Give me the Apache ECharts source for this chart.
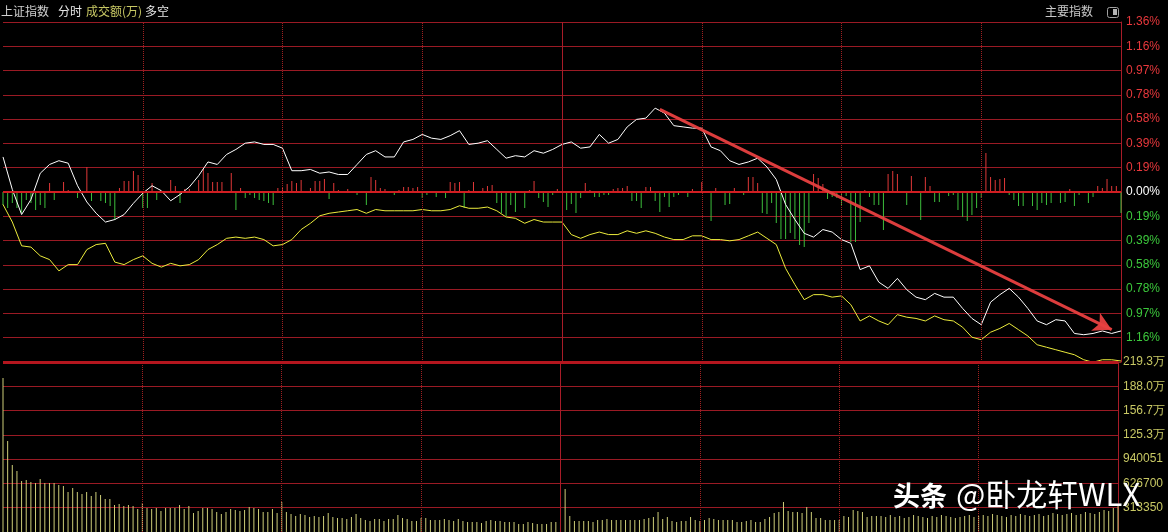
<!DOCTYPE html>
<html>
<head>
<meta charset="utf-8">
<script src="https://cdn.jsdelivr.net/npm/echarts@6/dist/echarts.min.js"></script>
<style>
html,body{margin:0;padding:0;background:#000;}
#chart{width:1168px;height:532px;}
</style>
</head>
<body>
<div id="chart"></div>
<script>
// ---------- DATA ----------
// white line: index % change, sampled every 2 minutes (minute = 2*k), 241 trading minutes
const whitePct = [0.28,0.02,-0.18,-0.06,0.15,0.22,0.25,0.23,0.05,-0.08,
-0.17,-0.24,-0.22,-0.18,-0.09,-0.01,0.05,0.01,-0.07,-0.02,
0.04,0.13,0.24,0.22,0.30,0.34,0.39,0.40,0.38,0.38,
0.35,0.17,0.17,0.18,0.15,0.16,0.14,0.14,0.22,0.30,
0.33,0.28,0.28,0.40,0.42,0.46,0.43,0.42,0.45,0.49,
0.38,0.39,0.41,0.34,0.27,0.29,0.28,0.33,0.31,0.34,
0.38,0.40,0.35,0.36,0.46,0.39,0.42,0.52,0.58,0.59,
0.67,0.63,0.53,0.52,0.51,0.51,0.36,0.33,0.25,0.22,
0.24,0.27,0.20,0.10,-0.10,-0.22,-0.33,-0.36,-0.30,-0.32,
-0.38,-0.41,-0.62,-0.59,-0.72,-0.77,-0.69,-0.78,-0.84,-0.86,
-0.81,-0.84,-0.84,-0.93,-1.01,-1.06,-0.88,-0.82,-0.77,-0.84,
-0.93,-1.03,-1.06,-1.02,-1.03,-1.13,-1.14,-1.13,-1.11,-1.13,-1.11];
// yellow line: % change, sampled every 2 minutes
const yellowPct = [-0.10,-0.24,-0.43,-0.44,-0.51,-0.54,-0.63,-0.58,-0.58,-0.46,
-0.42,-0.41,-0.56,-0.58,-0.54,-0.51,-0.57,-0.60,-0.57,-0.59,
-0.58,-0.54,-0.46,-0.42,-0.37,-0.36,-0.37,-0.36,-0.38,-0.43,
-0.42,-0.38,-0.30,-0.25,-0.19,-0.17,-0.16,-0.15,-0.14,-0.17,
-0.14,-0.15,-0.15,-0.15,-0.15,-0.14,-0.15,-0.15,-0.14,-0.11,
-0.13,-0.13,-0.12,-0.15,-0.20,-0.21,-0.25,-0.22,-0.24,-0.24,
-0.24,-0.34,-0.37,-0.34,-0.32,-0.34,-0.34,-0.31,-0.33,-0.31,
-0.33,-0.36,-0.38,-0.38,-0.35,-0.35,-0.38,-0.38,-0.39,-0.38,
-0.35,-0.32,-0.37,-0.42,-0.61,-0.74,-0.86,-0.82,-0.82,-0.84,
-0.83,-0.90,-1.03,-0.99,-1.03,-1.06,-0.98,-1.00,-1.01,-1.03,
-0.99,-1.02,-1.03,-1.08,-1.16,-1.18,-1.12,-1.09,-1.05,-1.10,
-1.15,-1.22,-1.24,-1.26,-1.28,-1.30,-1.34,-1.36,-1.34,-1.34,-1.35];
// turnover per minute (万)
const volumeWan = [198.6,117.3,86.4,78.7,65.8,67.1,64.5,63.2,68.3,63.2,
63.2,63.2,60.6,59.3,51.6,56.7,51.6,49.0,51.6,46.4,
51.6,47.7,42.6,42.6,34.8,36.1,33.5,34.8,33.5,29.7,
37.4,30.9,29.7,30.9,27.1,30.9,30.9,30.9,34.8,29.7,
33.5,24.5,27.1,30.9,30.9,29.7,25.8,23.2,25.8,29.7,
28.4,27.1,28.4,32.2,30.9,29.7,25.8,25.8,29.7,24.5,
38.7,25.8,23.2,20.6,
23.2,21.9,19.3,20.6,19.3,20.6,24.5,19.3,18.1,18.1,
16.8,19.3,23.2,18.1,15.5,14.2,16.8,16.8,14.2,16.8,
16.8,21.9,18.1,16.8,14.2,14.2,18.1,18.1,15.5,15.5,
15.5,16.8,15.5,14.2,16.8,14.2,12.9,12.9,12.9,11.6,
14.2,15.5,14.2,14.2,12.9,12.9,12.9,10.3,10.3,12.9,
11.6,10.3,10.3,10.3,12.9,12.9,12.9,55.4,20.6,14.2,14.2,
14.2,14.2,12.9,15.5,15.5,16.8,15.5,15.5,15.5,15.5,
15.5,15.5,15.5,16.8,18.1,19.3,25.8,16.8,19.3,14.2,
12.9,14.2,14.2,19.3,15.5,14.2,15.5,18.1,16.8,15.5,
15.5,15.5,15.5,12.9,12.9,14.2,15.5,12.9,12.9,16.8,
19.3,24.5,25.8,38.7,27.1,25.8,25.8,24.5,32.2,25.8,
18.1,18.1,15.5,15.5,15.5,15.5,20.6,19.3,28.4,27.1,
25.8,19.3,20.6,20.6,
20.6,19.3,21.9,19.3,20.6,18.1,19.3,21.9,20.6,19.3,
18.1,20.6,19.3,21.9,20.6,19.3,18.1,19.3,20.6,21.9,
19.3,20.6,21.9,20.6,23.2,21.9,20.6,19.3,21.9,20.6,
23.2,21.9,20.6,21.9,23.2,20.6,21.9,24.5,23.2,21.9,
23.2,24.5,21.9,23.2,25.8,24.5,23.2,25.8,28.4,27.1,
31.0,33.5];
// 多空 strength bars: [minute, value] (positive = red, negative = green)
const duokong = [[0,-13],[1,-16],[2,-11],[3,-16],[4,-21],[5,-8],[6,-11],[7,-18],[8,-13],[9,-16],[10,9],[11,-8],[13,10],[14,2],[16,-6],[18,25],[19,-9],[21,-9],[22,-11],[23,-14],[24,-28],[25,4],[26,11],[27,11],[28,21],[29,17],[30,-16],[31,-16],[32,9],[33,-8],[36,12],[37,6],[38,-11],[39,3],[40,3],[41,1],[42,12],[43,23],[44,19],[45,10],[46,10],[47,10],[49,19],[50,-18],[51,4],[52,-6],[53,-3],[54,-6],[55,-8],[56,-9],[57,-11],[58,-13],[59,4],[60,5],[61,8],[62,11],[63,9],[64,12],[66,4],[67,11],[68,11],[69,13],[70,-7],[71,9],[72,2],[74,3],[76,-3],[78,-13],[79,15],[80,12],[81,4],[82,3],[84,-3],[85,2],[86,5],[87,5],[88,4],[89,5],[90,-6],[91,-3],[93,-5],[95,-6],[96,10],[97,9],[98,10],[99,-16],[100,2],[101,10],[103,4],[104,6],[105,7],[106,-11],[107,-21],[108,-24],[109,-13],[110,-20],[112,-16],[113,2],[114,11],[115,-6],[116,-10],[117,-15],[118,-3],[119,3],[121,-18],[122,-12],[123,-21],[124,-6],[125,9],[126,2],[127,-5],[128,-5],[129,-3],[130,-3],[131,3],[132,4],[133,4],[134,6],[135,-9],[136,-9],[137,-16],[138,5],[139,5],[140,-9],[141,-20],[142,-5],[143,-15],[144,-5],[145,-3],[147,-5],[148,3],[150,10],[152,-29],[153,4],[155,-13],[156,-12],[157,4],[159,-3],[160,15],[161,15],[162,9],[163,-21],[164,-22],[165,-11],[166,-31],[167,-47],[168,-47],[169,-41],[170,-47],[171,-53],[172,-55],[173,-31],[174,18],[175,14],[176,8],[177,-7],[178,-5],[179,-6],[180,-13],[181,-4],[182,-50],[183,-50],[184,-30],[185,2],[186,-5],[187,-13],[188,-13],[189,-38],[190,18],[191,21],[192,18],[193,1],[194,-13],[195,16],[197,-28],[198,15],[199,6],[200,-10],[201,-10],[203,-4],[204,-3],[205,-18],[206,-25],[207,-29],[208,-23],[209,-16],[210,-6],[211,39],[212,15],[213,12],[214,13],[215,14],[216,-3],[217,-8],[218,-14],[219,-14],[221,-14],[222,-18],[223,-11],[224,-13],[225,-11],[227,-11],[228,-10],[229,3],[230,-14],[231,-3],[233,-11],[234,-5],[235,6],[236,4],[237,13],[238,6],[239,6],[240,-21]];
// tick labels (price: steps -7..7, volume: steps 0..7)
const priceTickLabels = ['', '1.16%','0.97%','0.78%','0.58%','0.39%','0.19%','0.00%','0.19%','0.39%','0.58%','0.78%','0.97%','1.16%','1.36%'];
const volTickLabels = ['', '313350','626700','940051','125.3万','156.7万','188.0万','219.3万'];
const halfHourTicks = [30, 60, 90, 150, 180, 210]; // minutes (dotted)
const middayTick = 120;                            // 11:30 / 13:00 (solid)
const PCT_STEP = 0.194;      // % per grid step
const VOL_STEP_WAN = 31.335; // 万 per grid step
// annotation arrow [minute, %]
const arrowStart = [141, 0.66];
const arrowEnd = [238, -1.10];

// ---------- CHART ----------
const chart = echarts.init(document.getElementById('chart'), null, {renderer: 'canvas'});
const GRID_RED = '#9a1a24';
const DOT_RED = '#a02020';
const labelFont = 'Liberation Sans';

const xBase = {
  type: 'value', min: 0, max: 240,
  axisLine: {show: false, onZero: false}, axisTick: {show: false}, axisLabel: {show: false},
  splitLine: {show: false}
};
const vLines = halfHourTicks.map(t => ({xAxis: t, lineStyle: {color: DOT_RED, width: 1, type: 'dotted'}}))
  .concat([{xAxis: middayTick, lineStyle: {color: '#a81c28', width: 1, type: 'solid'}}]);

const option = {
  backgroundColor: '#000000',
  animation: false,
  grid: [
    {left: 3, right: 47, top: 22, height: 340},
    {left: 3, right: 47, top: 362, height: 170}
  ],
  xAxis: [
    Object.assign({gridIndex: 0}, xBase),
    Object.assign({gridIndex: 1}, xBase)
  ],
  yAxis: [
    {
      gridIndex: 0, type: 'value', position: 'right', min: -7, max: 7, interval: 1,
      axisLine: {show: true, onZero: false, lineStyle: {color: '#a81c28', width: 1}},
      axisTick: {show: false},
      axisLabel: {
        margin: 5, fontSize: 12, fontFamily: labelFont,
        formatter: v => priceTickLabels[Math.round(v) + 7],
        color: v => (v > 0 ? '#e8383c' : (v < 0 ? '#3cc83c' : '#ffffff'))
      },
      splitLine: {lineStyle: {color: GRID_RED, width: 1}}
    },
    {
      gridIndex: 0, type: 'value', position: 'right', min: -170, max: 170, show: false,
      axisLine: {show: false, onZero: false}, axisTick: {show: false}, axisLabel: {show: false},
      splitLine: {show: false}
    },
    {
      gridIndex: 1, type: 'value', position: 'right', min: 0, max: 7, interval: 1,
      axisLine: {show: true, onZero: false, lineStyle: {color: '#a81c28', width: 1}},
      axisTick: {show: false},
      axisLabel: {
        margin: 5, fontSize: 12, fontFamily: labelFont, color: '#c8c864',
        formatter: v => volTickLabels[Math.round(v)]
      },
      splitLine: {lineStyle: {color: ['transparent', GRID_RED, GRID_RED, GRID_RED, GRID_RED, GRID_RED, GRID_RED, GRID_RED], width: 1}}
    }
  ],
  series: [
    {
      name: '多空', type: 'bar', xAxisIndex: 0, yAxisIndex: 1, barWidth: 1,
      data: duokong,
      itemStyle: {color: p => (p.value[1] > 0 ? '#e03838' : '#3cbe3c')},
      z: 2,
      markLine: {
        silent: true, animation: false, symbol: ['none', 'none'], label: {show: false},
        data: vLines
      }
    },
    {
      name: 'yellow', type: 'line', xAxisIndex: 0, yAxisIndex: 0,
      data: yellowPct.map((p, k) => [k * 2, p / PCT_STEP]),
      showSymbol: false, symbol: 'none',
      lineStyle: {color: '#ecec3c', width: 1}, z: 3,
      markLine: {
        silent: true, animation: false, symbol: ['none', 'none'], label: {show: false},
        data: [{yAxis: 0, lineStyle: {color: '#d21e22', width: 2, type: 'solid'}}]
      }
    },
    {
      name: 'white', type: 'line', xAxisIndex: 0, yAxisIndex: 0,
      data: whitePct.map((p, k) => [k * 2, p / PCT_STEP]),
      showSymbol: false, symbol: 'none',
      lineStyle: {color: '#ffffff', width: 1}, z: 4,
      markLine: {
        silent: true, animation: false,
        symbol: ['none', 'arrow'], symbolSize: [15, 18],
        label: {show: false},
        lineStyle: {color: '#e84040', width: 3, type: 'solid', opacity: 0.95},
        data: [[
          {coord: [arrowStart[0], arrowStart[1] / PCT_STEP]},
          {coord: [arrowEnd[0], arrowEnd[1] / PCT_STEP]}
        ]]
      }
    },
    {
      name: '成交额', type: 'bar', xAxisIndex: 1, yAxisIndex: 2, barWidth: 1,
      data: volumeWan.map((v, i) => [i, v / VOL_STEP_WAN]),
      itemStyle: {color: '#cdcd78'},
      markLine: {
        silent: true, animation: false, symbol: ['none', 'none'], label: {show: false},
        data: vLines.concat([{yAxis: 7, lineStyle: {color: '#b4161e', width: 3, type: 'solid'}}])
      }
    }
  ],
  graphic: [
    {type: 'text', left: 1, top: 5, style: {text: '上证指数', fill: '#d0d0d0', font: '12px "Noto Sans CJK SC"'}},
    {type: 'text', left: 58, top: 5, style: {text: '分时', fill: '#e6e6e6', font: '12px "Noto Sans CJK SC"'}},
    {type: 'text', left: 86, top: 5, style: {text: '成交额(万)', fill: '#c8c864', font: '12px "Noto Sans CJK SC"'}},
    {type: 'text', left: 145, top: 5, style: {text: '多空', fill: '#e6e6e6', font: '12px "Noto Sans CJK SC"'}},
    {type: 'text', left: 1045, top: 5, style: {text: '主要指数', fill: '#c8c8c8', font: '12px "Noto Sans CJK SC"'}},
    {type: 'rect', left: 1107, top: 7, shape: {width: 11, height: 10, r: 2}, style: {fill: 'transparent', stroke: '#a0a0a0', lineWidth: 1}},
    {type: 'rect', left: 1113, top: 9, shape: {width: 4, height: 6}, style: {fill: '#b4b4b4'}},
    {
      type: 'text', left: 893, top: 482, z: 100,
      style: {text: '头条', fill: '#ffffff', font: 'bold 27px "Noto Sans CJK SC"', textShadowColor: 'rgba(0,0,0,0.6)', textShadowBlur: 2}
    },
    {
      type: 'text', left: 956, top: 479, z: 100,
      style: {text: '@卧龙轩WLX', fill: '#ffffff', font: '31px "Noto Sans CJK SC"', textShadowColor: 'rgba(0,0,0,0.6)', textShadowBlur: 2}
    }
  ]
};
chart.setOption(option);
</script>
</body>
</html>
